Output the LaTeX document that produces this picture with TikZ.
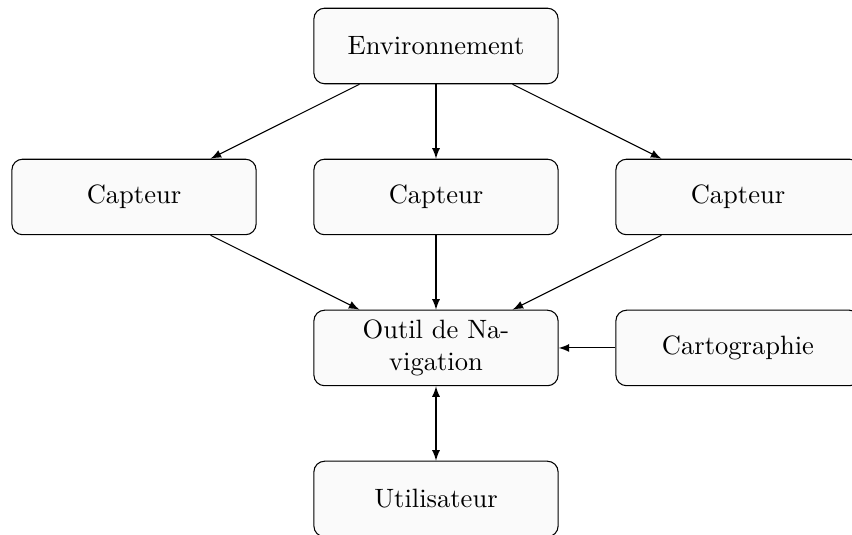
\documentclass[tikz,border=0pt]{standalone}
\usepackage{tikz}
\usetikzlibrary{arrows}

\begin{document}
\begin{tikzpicture}[>=latex,
  bloc/.style={draw, rectangle, rounded corners=4pt, fill=gray!4,
    text width=3cm, align=center, minimum height=1cm}]

\useasboundingbox (-5.775,0.609) rectangle (5.51,-6.477);

\node[bloc] (env) at (0,0) {Environnement};
\node[bloc] (capA) at (-4,-2) {Capteur};
\node[bloc] (capB) at (0,-2) {Capteur};
\node[bloc] (capC) at (4,-2) {Capteur};
\node[bloc] (outil) at (0,-4) {Outil de Na-\\vigation};
\node[bloc] (carto) at (4,-4) {Cartographie};
\node[bloc] (user) at (0,-6) {Utilisateur};

\draw[->] (env) -- (capA);
\draw[->] (env) -- (capB);
\draw[->] (env) -- (capC);
\draw[->] (capA) -- (outil);
\draw[->] (capB) -- (outil);
\draw[->] (capC) -- (outil);
\draw[->] (carto) -- (outil);
\draw[<->] (outil) -- (user);
\end{tikzpicture}
\end{document}
